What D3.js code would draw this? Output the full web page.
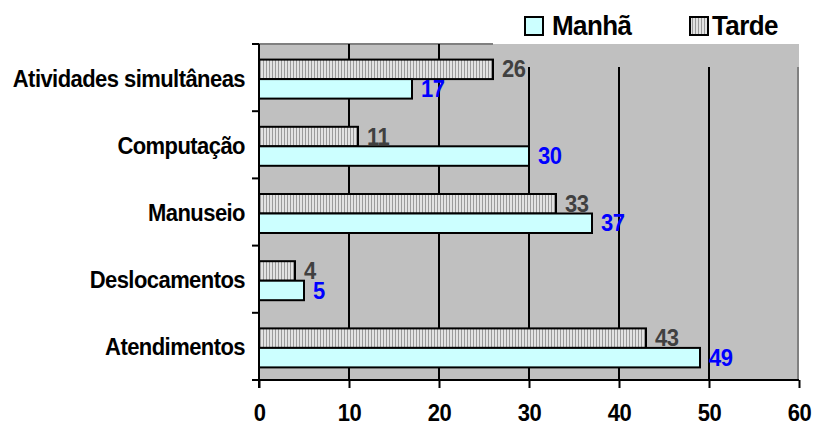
<!DOCTYPE html>
<html>
<head>
<meta charset="utf-8">
<script src="https://cdn.jsdelivr.net/npm/d3@7"></script>
<style>
  html, body { margin: 0; padding: 0; background: #fff; }
  svg { display: block; }
  text { font-family: "Liberation Sans", Arial, sans-serif; font-weight: bold; }
</style>
</head>
<body>
<svg id="chart" width="813" height="426"></svg>
<script>
// Activities, top to bottom
const categories = ["Atividades simultâneas", "Computação", "Manuseio", "Deslocamentos", "Atendimentos"];
const seriesNames = ["Tarde", "Manhã"];
const tarde = [26, 11, 33, 4, 43];
const manha = [17, 30, 37, 5, 49];
const xTicks = [0, 10, 20, 30, 40, 50, 60];

const svg = d3.select("#chart");
const plotL = 259, plotR = 799, plotT = 44, plotB = 380;
const stretch = 1.08; // glyphs are drawn slightly taller than wide

const x = d3.scaleLinear().domain([0, 60]).range([plotL, plotR]);
const y = d3.scaleBand().domain(categories).range([plotT, plotB]);
const barH = 19.5;

// place a text at (tx, ty) with a vertical stretch about its anchor point
function placeText(sel, tx, ty) {
  return sel.attr("x", 0).attr("y", 0)
    .attr("transform", `translate(${tx},${ty}) scale(1,${stretch})`);
}

// striped fill for the afternoon series
const defs = svg.append("defs");
const pat = defs.append("pattern").attr("id", "stripes")
  .attr("patternUnits", "userSpaceOnUse").attr("width", 3).attr("height", 4);
pat.append("rect").attr("width", 3).attr("height", 4).attr("fill", "#e2e2e2");
pat.append("rect").attr("x", 2).attr("width", 1).attr("height", 4).attr("fill", "#9a9a9a");

const fills = { "Tarde": "url(#stripes)", "Manhã": "#ccffff" };
const labelColors = { "Tarde": "#404040", "Manhã": "#0000ff" };

// plot background
svg.append("rect").attr("x", plotL).attr("y", plotT)
  .attr("width", plotR - plotL).attr("height", plotB - plotT).attr("fill", "#c0c0c0");

// plot border (top edge and right edge)
svg.append("line").attr("x1", plotL).attr("x2", 493).attr("y1", plotT).attr("y2", plotT)
  .attr("stroke", "#808080").attr("stroke-width", 2);
svg.append("line").attr("x1", plotR - 1).attr("x2", plotR - 1).attr("y1", 67).attr("y2", plotB)
  .attr("stroke", "#808080").attr("stroke-width", 2);

// vertical gridlines
svg.append("g").selectAll("line")
  .data(xTicks.filter(d => d > 0 && d < 60))
  .join("line")
  .attr("x1", d => x(d)).attr("x2", d => x(d))
  .attr("y1", d => d <= 20 ? plotT : 67).attr("y2", plotB)
  .attr("stroke", "#000").attr("stroke-width", 2);

// bars with value labels
const rows = categories.map((c, i) => ({ cat: c, Tarde: tarde[i], "Manhã": manha[i] }));
const barsG = svg.append("g");
rows.forEach(r => {
  const cy = y(r.cat) + y.bandwidth() / 2 + 1.5;
  seriesNames.forEach((s, j) => {
    const y0 = cy - barH + j * barH;
    barsG.append("rect")
      .attr("x", x(0)).attr("y", y0)
      .attr("width", x(r[s]) - x(0)).attr("height", barH)
      .attr("fill", fills[s]).attr("stroke", "#000").attr("stroke-width", 2);
    barsG.append("text")
      .call(placeText, x(r[s]) + 9, y0 + barH / 2 - 0.5)
      .attr("dy", "0.36em")
      .attr("font-size", 22).attr("letter-spacing", -0.5)
      .attr("fill", labelColors[s])
      .text(r[s]);
  });
});

// y axis
const yAxis = svg.append("g");
yAxis.append("line").attr("x1", plotL).attr("x2", plotL).attr("y1", plotT).attr("y2", plotB + 8)
  .attr("stroke", "#000").attr("stroke-width", 2);
const boundaries = categories.map(c => y(c)).concat([plotB]);
yAxis.selectAll("line.tick").data(boundaries).join("line").attr("class", "tick")
  .attr("x1", plotL - 7).attr("x2", plotL).attr("y1", d => d).attr("y2", d => d)
  .attr("stroke", "#000").attr("stroke-width", 2);
yAxis.selectAll("text").data(categories).join("text")
  .each(function (d) { placeText(d3.select(this), 245, y(d) + y.bandwidth() / 2 + 0.5); })
  .attr("dy", "0.36em").attr("text-anchor", "end")
  .attr("font-size", 22).attr("letter-spacing", -0.55).attr("fill", "#000")
  .text(d => d);

// x axis
const xAxis = d3.axisBottom(x).tickValues(xTicks).tickSize(8).tickFormat(d3.format("d"));
const gx = svg.append("g").attr("transform", `translate(0,${plotB})`).call(xAxis);
gx.select(".domain").attr("d", `M${plotL - 7},0H${plotR}`).attr("stroke", "#000").attr("stroke-width", 2);
gx.selectAll(".tick line").attr("stroke", "#000").attr("stroke-width", 2);
gx.selectAll(".tick text")
  .attr("y", 0).attr("dy", 0)
  .attr("transform", `translate(0,41) scale(1,${stretch})`)
  .attr("font-size", 22).attr("letter-spacing", -0.5)
  .attr("font-family", "'Liberation Sans', Arial, sans-serif").attr("font-weight", "bold").attr("fill", "#000");

// legend
const legend = svg.append("g");
const legendItems = [
  { name: "Manhã", sx: 525, tx: 552 },
  { name: "Tarde", sx: 690, tx: 712 }
];
legendItems.forEach(it => {
  legend.append("rect").attr("x", it.sx).attr("y", 17).attr("width", 18).attr("height", 18)
    .attr("fill", fills[it.name]).attr("stroke", "#000").attr("stroke-width", 2);
  legend.append("text").call(placeText, it.tx, 35)
    .attr("font-size", 26).attr("letter-spacing", -0.6).attr("fill", "#000")
    .text(it.name);
});
</script>
</body>
</html>
